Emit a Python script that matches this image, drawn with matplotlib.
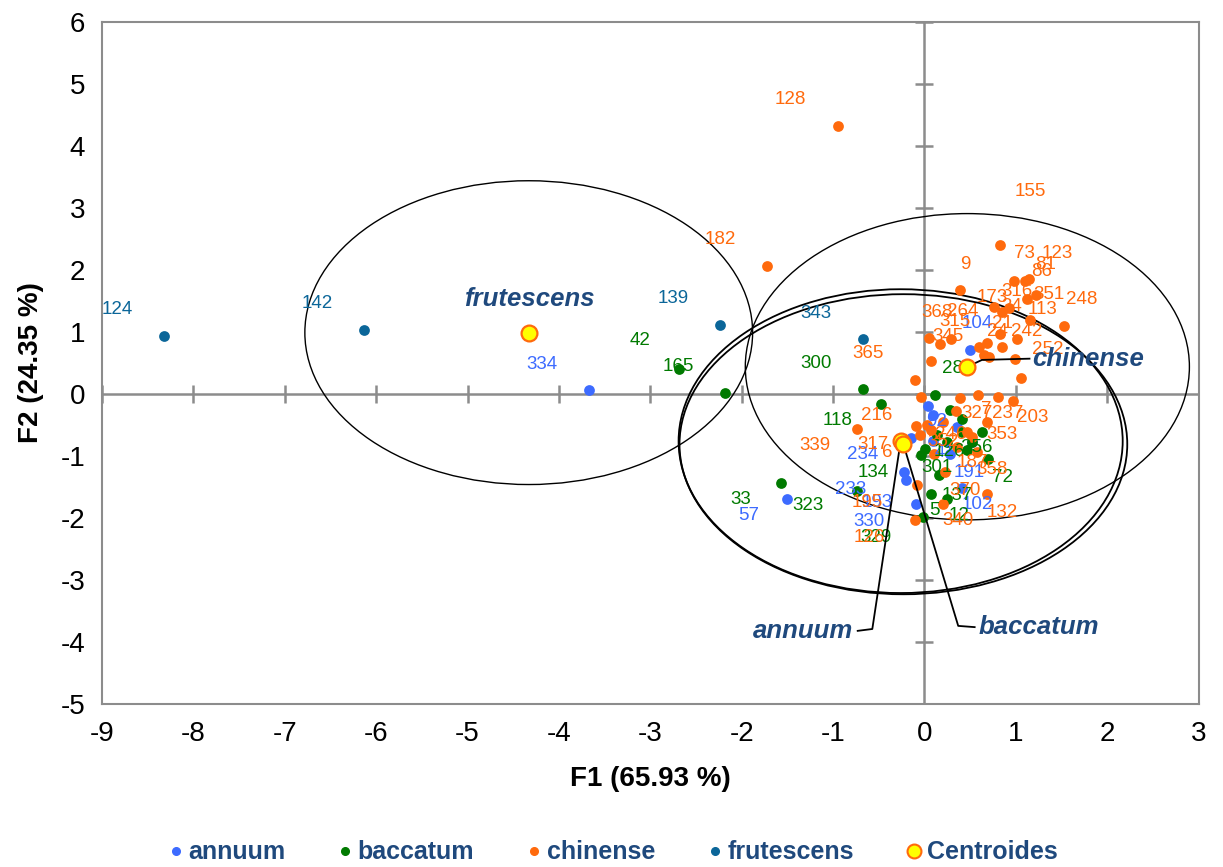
import matplotlib
matplotlib.use("Agg")
import matplotlib.pyplot as plt
from matplotlib.patches import Ellipse
from matplotlib.lines import Line2D

plt.rcParams['font.family'] = ['Liberation Sans', 'DejaVu Sans']
plt.rcParams['axes.unicode_minus'] = False

# ---- data ----
annuum_x = [-3.67, -1.50, 0.04, 0.09, -0.15, -0.22, -0.20, -0.09, 0.50, 0.41, 0.09, 0.28, 0.36, 0.52]
annuum_y = [0.06, -1.69, -0.19, -0.34, -0.71, -1.26, -1.39, -1.78, 0.71, -1.51, -0.75, -0.97, -0.53, -0.78]
annuum_lab = ['334', '57', '92', '', '234', '233', '193', '330', '104', '102', '41', '191', '', '']

baccatum_x = [-2.69, -2.18, -0.67, -0.48, 0.12, -0.04, -0.02, 0.07, 0.25, 0.16, 0.70, 0.01, 0.14, 0.41,
              -1.57, -0.74, 0.28, 0.41, 0.25, 0.52, 0.63, 0.47]
baccatum_y = [0.41, 0.02, 0.08, -0.16, -0.02, -0.99, -1.99, -1.62, -1.69, -1.31, -1.05, -0.89, -0.66, -0.62,
              -1.44, -1.56, -0.26, -0.41, -0.78, -0.78, -0.62, -0.90]
baccatum_lab = ['42', '165', '300', '118', '286', '134', '329', '5', '12', '137', '72', '301', '126', '256',
                '33', '323', '', '', '', '', '', '']

chinense_x = [-0.95, -1.72, 0.83, 0.39, 0.98, 1.10, 1.15, 1.12, 1.22, 0.76, 0.93, 1.53, 1.16, 0.85,
              0.05, 0.29, 0.17, 0.07, 1.06, 0.85, 0.68, 0.60, 0.65, 0.71, 0.99, 0.83, 1.01,
              -0.10, -0.09, -0.74, -0.05, 0.10, -0.08, -0.10, 0.20, 0.69, 0.23, 0.69, 0.58, 0.36,
              0.07, 0.20, 0.39, 0.59, 0.80, 0.97, -0.04, 0.35, 0.03, 0.47, 0.52]
chinense_y = [4.33, 2.07, 2.40, 1.67, 1.83, 1.83, 1.85, 1.54, 1.60, 1.41, 1.38, 1.09, 1.20, 1.33,
              0.91, 0.89, 0.81, 0.53, 0.26, 0.76, 0.83, 0.76, 0.63, 0.60, 0.57, 0.97, 0.89,
              0.23, -0.52, -0.57, -0.66, -0.97, -1.46, -2.04, -1.78, -1.62, -1.26, -0.45, -0.94, -0.86,
              -0.58, -0.45, -0.06, -0.02, -0.05, -0.11, -0.05, -0.28, -0.50, -0.62, -0.70]
chinense_lab = ['128', '182', '155', '9', '73', '123', '81', '86', '351', '173', '316', '248', '113', '34',
                '368', '264', '315', '345', '252', '242', '24', '21', '', '', '', '', '',
                '365', '216', '339', '317', '6', '195', '126', '340', '132', '370', '353', '358', '187',
                '352', '246', '327', '7', '237', '203', '', '', '', '', '']

frutescens_x = [-8.32, -6.13, -2.24, -0.67]
frutescens_y = [0.94, 1.04, 1.12, 0.88]
frutescens_lab = ['124', '142', '139', '343']

groups = ['annuum', 'baccatum', 'chinense', 'frutescens']
centroid_x = [-0.26, -0.23, 0.47, -4.33]
centroid_y = [-0.76, -0.81, 0.44, 0.99]
ellipse_rx = [2.43, 2.45, 2.43, 2.45]
ellipse_ry = [2.45, 2.42, 2.47, 2.45]

# ---- styles ----
col = {'annuum': '#3d6bff', 'baccatum': '#007a00', 'chinense': '#ff6a0d', 'frutescens': '#0b6699'}
name_col = '#1f497d'

# label offsets in pixels (dx right, dy down); default upper-left
DEF_OFF = (-47, -26)
offsets = {
    'annuum': {'57': (-39, 17), '92': (9, 16), '234': (-48, 16), '233': (-54, 17), '193': (-29, 22),
               '330': (-47, 17), '104': (7, -26), '102': (15, 17), '41': (12, 12), '191': (19, 18)},
    'baccatum': {'42': (-39, -28), '118': (-43, 17), '286': (22, -27), '134': (-48, 17), '329': (-47, 20),
                 '5': (4, 16), '12': (12, 17), '137': (18, 20), '72': (14, 18), '301': (12, 18),
                 '126': (12, 17), '256': (15, 15), '33': (-40, 16), '323': (-49, 15)},
    'chinense': {'155': (30, -54), '9': (5, -26), '73': (10, -27), '123': (32, -27), '81': (16, -15),
                 '86': (15, -27), '351': (13, 0), '173': (-2, -9), '316': (8, -17), '248': (17, -27),
                 '113': (12, -10), '34': (10, -5), '368': (8, -25), '264': (12, -27), '315': (15, -22),
                 '345': (17, -25), '252': (26, -28), '242': (25, -15), '24': (11, -11), '21': (23, -23),
                 '216': (-39, -11), '339': (-42, 16), '317': (-47, 10), '6': (-46, -2), '195': (-50, 18),
                 '126': (-46, 17), '340': (15, 16), '132': (15, 18), '370': (20, 18), '353': (15, 13),
                 '358': (15, 17), '187': (15, 15), '352': (12, 12), '246': (8, 13), '327': (17, 16),
                 '7': (8, 14), '237': (10, 16), '203': (20, 17)},
    'frutescens': {},
}

series = {
    'annuum': (annuum_x, annuum_y, annuum_lab),
    'baccatum': (baccatum_x, baccatum_y, baccatum_lab),
    'chinense': (chinense_x, chinense_y, chinense_lab),
    'frutescens': (frutescens_x, frutescens_y, frutescens_lab),
}

fig = plt.figure(figsize=(12.23, 8.67), dpi=100)
ax = fig.add_axes([0.0834, 0.188, 0.8966, 0.7866])
ax.set_xlim(-9, 3)
ax.set_ylim(-5, 6)

gray = '#8c8c8c'
for s in ax.spines.values():
    s.set_color(gray)
    s.set_linewidth(1.5)
ax.axhline(0, color=gray, lw=1.8, zorder=1)
ax.axvline(0, color=gray, lw=1.8, zorder=1)
xt = list(range(-9, 4))
yt = list(range(-5, 7))
ax.plot(xt, [0] * len(xt), ls='none', marker='|', ms=13, mew=1.8, color=gray, zorder=1)
ax.plot([0] * len(yt), yt, ls='none', marker='_', ms=13, mew=1.8, color=gray, zorder=1)
ax.set_xticks(xt)
ax.set_yticks(yt)
ax.tick_params(length=0, labelsize=20, pad=12)

# confidence ellipses
for i, g in enumerate(groups):
    lw = 1.3 if g in ('annuum', 'baccatum') else 1.0
    ax.add_patch(Ellipse((centroid_x[i], centroid_y[i]), 2 * ellipse_rx[i], 2 * ellipse_ry[i],
                         fill=False, ec='black', lw=lw, zorder=2))

# observations
for g in groups:
    xs, ys, labs = series[g]
    ax.scatter(xs, ys, s=60, color=col[g], zorder=3, linewidths=0)
    for x, y, lab in zip(xs, ys, labs):
        if not lab:
            continue
        dx, dy = offsets[g].get(lab, DEF_OFF)
        ax.annotate(lab, (x, y), xytext=(dx * 0.72, -dy * 0.72), textcoords='offset points',
                    ha='center', va='center', fontsize=13.5, color=col[g], zorder=4)

# centroids
ax.scatter(centroid_x, centroid_y, s=130, color='#ffff00', edgecolors='#ff6a0d', linewidths=1.6, zorder=5)

# centroid names and leader lines
kw = dict(fontsize=18.5, fontweight='bold', fontstyle='italic', color=name_col, zorder=6)
ax.text(-4.32, 1.54, 'frutescens', ha='center', va='center', **kw)
ax.text(1.18, 0.57, 'chinense', ha='left', va='center', **kw)
ax.text(-0.78, -3.82, 'annuum', ha='right', va='center', **kw)
ax.text(0.59, -3.76, 'baccatum', ha='left', va='center', **kw)
ax.plot([-0.73, -0.57, centroid_x[0]], [-3.82, -3.79, centroid_y[0]], color='black', lw=1.3, zorder=4)
ax.plot([0.55, 0.37, centroid_x[1]], [-3.76, -3.74, centroid_y[1]], color='black', lw=1.3, zorder=4)
ax.plot([1.15, 0.63, centroid_x[2]], [0.57, 0.55, centroid_y[2]], color='black', lw=1.3, zorder=4)

ax.set_xlabel('F1 (65.93 %)', fontsize=20, fontweight='bold', labelpad=14)
ax.set_ylabel('F2 (24.35 %)', fontsize=20, fontweight='bold', labelpad=12)

handles = [Line2D([], [], ls='none', marker='o', ms=5.5, color=col[g]) for g in groups]
handles.append(Line2D([], [], ls='none', marker='o', ms=10, mfc='#ffff00', mec='#ff6a0d', mew=1.5))
leg = fig.legend(handles, groups + ['Centroides'], loc='center', bbox_to_anchor=(0.5, 0.017), ncol=5,
                 frameon=False, handletextpad=0.1, columnspacing=2.0, handlelength=0.8,
                 prop={'size': 18, 'weight': 'bold'})
for t in leg.get_texts():
    t.set_color(name_col)

fig.savefig('out.png', dpi=100)
